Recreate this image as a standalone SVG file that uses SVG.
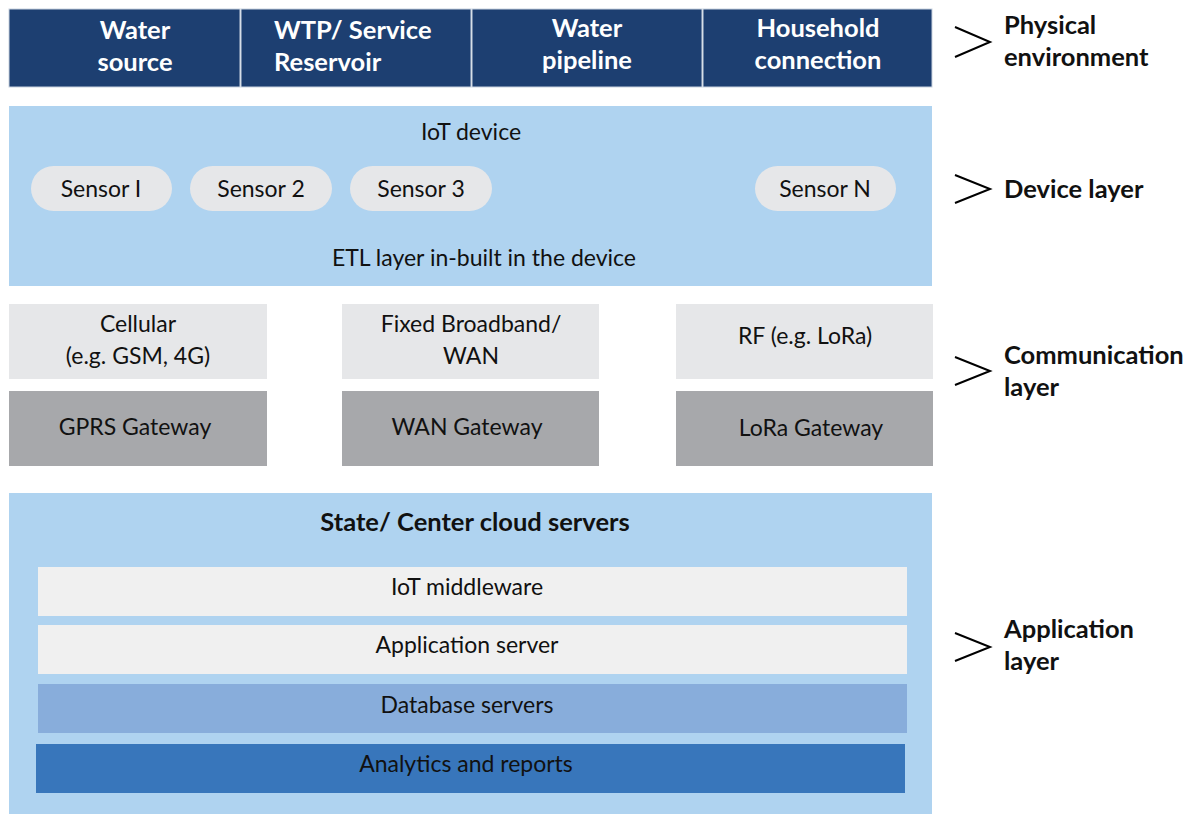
<svg xmlns="http://www.w3.org/2000/svg" width="1194" height="814" viewBox="0 0 1194 814">
<style>
text{font-family:Lato,"Open Sans","Liberation Sans",sans-serif;font-size:23px;fill:#111;text-anchor:middle;dominant-baseline:central}
.phys rect{fill:#1d3f71;stroke:#c9d3e0;stroke-width:1}
.phys text{fill:#fff;font-weight:bold;font-size:25.5px}
.phys text.st{text-anchor:start}
.lbl text{text-anchor:start;font-weight:bold;font-size:25.5px}
.chev{fill:none;stroke:#000;stroke-width:2}
.pill{fill:#e6e7e9}
.light{fill:#e6e7e9}
.dark{fill:#a7a8ab}
.blue{fill:#afd3f0}
.title{font-weight:bold;font-size:25.5px}
</style>
<rect width="1194" height="814" fill="#fff"/>
<g id="physical" class="phys">
<g id="water-source"><rect x="9" y="9" width="231" height="78"/><text x="135" y="29">Water</text><text x="135" y="61">source</text></g>
<g id="wtp"><rect x="241" y="9" width="230" height="78"/><text class="st" x="274" y="29">WTP/ Service</text><text class="st" x="274" y="61">Reservoir</text></g>
<g id="pipeline"><rect x="472" y="9" width="230" height="78"/><text x="587" y="27">Water</text><text x="587" y="59">pipeline</text></g>
<g id="household"><rect x="703" y="9" width="229" height="78"/><text x="818" y="27">Household</text><text x="818" y="59">connection</text></g>
</g>
<g id="device">
<rect class="blue" x="9" y="106" width="923" height="180"/>
<text x="471" y="131">IoT device</text>
<g id="sensor1"><rect class="pill" x="31" y="166" width="141" height="45" rx="22.5"/><text x="101" y="188">Sensor I</text></g>
<g id="sensor2"><rect class="pill" x="190" y="166" width="142" height="45" rx="22.5"/><text x="261" y="188">Sensor 2</text></g>
<g id="sensor3"><rect class="pill" x="350" y="166" width="142" height="45" rx="22.5"/><text x="421" y="188">Sensor 3</text></g>
<g id="sensorN"><rect class="pill" x="755" y="166" width="141" height="45" rx="22.5"/><text x="825" y="188">Sensor N</text></g>
<text x="484" y="257">ETL layer in-built in the device</text>
</g>
<g id="communication">
<g id="cellular"><rect class="light" x="9" y="304" width="258" height="75"/><text x="138" y="323">Cellular</text><text x="138" y="355">(e.g. GSM, 4G)</text></g>
<g id="broadband"><rect class="light" x="342" y="304" width="257" height="75"/><text x="471" y="323">Fixed Broadband/</text><text x="471" y="355">WAN</text></g>
<g id="rf"><rect class="light" x="676" y="304" width="257" height="75"/><text x="805" y="335">RF (e.g. LoRa)</text></g>
<g id="gprs"><rect class="dark" x="9" y="391" width="258" height="75"/><text x="135" y="426">GPRS Gateway</text></g>
<g id="wan"><rect class="dark" x="342" y="391" width="257" height="75"/><text x="467" y="426">WAN Gateway</text></g>
<g id="lora"><rect class="dark" x="676" y="391" width="257" height="75"/><text x="811" y="427">LoRa Gateway</text></g>
</g>
<g id="application">
<rect class="blue" x="9" y="493" width="923" height="321"/>
<text class="title" x="475" y="521">State/ Center cloud servers</text>
<g id="middleware"><rect fill="#f0f0f0" x="38" y="567" width="869" height="49"/><text x="467" y="586">IoT middleware</text></g>
<g id="appserver"><rect fill="#f0f0f0" x="38" y="625" width="869" height="49"/><text x="467" y="644">Application server</text></g>
<g id="database"><rect fill="#88addb" x="38" y="684" width="869" height="49"/><text x="467" y="704">Database servers</text></g>
<g id="analytics"><rect fill="#3876bb" x="36" y="744" width="869" height="49"/><text x="466" y="763">Analytics and reports</text></g>
</g>
<g id="connectors">
<polyline class="chev" points="955,27 990,42 955,57"/>
<polyline class="chev" points="955,175 990,189 955,203"/>
<polyline class="chev" points="955,357 990,371 955,385"/>
<polyline class="chev" points="955,633 990,647 955,661"/>
</g>
<g class="lbl" id="layer-labels">
<text x="1004" y="24">Physical</text><text x="1004" y="56">environment</text>
<text x="1004" y="188">Device layer</text>
<text x="1004" y="354">Communication</text><text x="1004" y="386">layer</text>
<text x="1004" y="628">Application</text><text x="1004" y="660">layer</text>
</g>
</svg>
